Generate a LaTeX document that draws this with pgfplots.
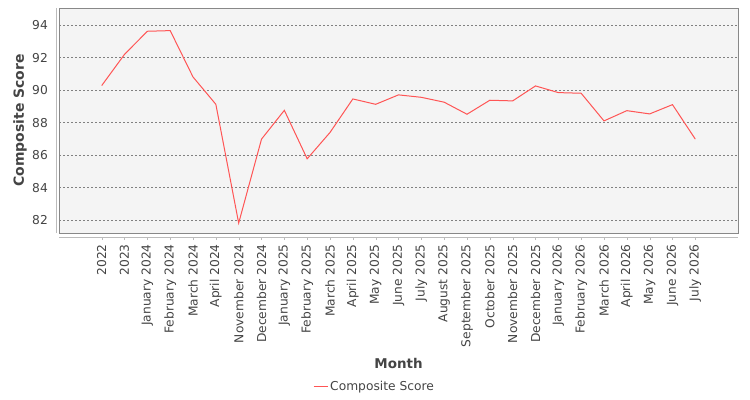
\documentclass[border=0pt]{standalone}
\usepackage{pgfplots}
\pgfplotsset{compat=1.18}
\usepackage{fontspec}
\setmainfont{DejaVu Sans}
\definecolor{linered}{HTML}{FF5555}
\definecolor{plotbg}{HTML}{F4F4F4}
\definecolor{txt}{HTML}{444444}
\definecolor{gridc}{HTML}{808080}
\definecolor{axline}{HTML}{BBBBBB}
\definecolor{border}{HTML}{888888}
\begin{document}
\begin{tikzpicture}
\useasboundingbox (0,0) rectangle (750bp,400bp);
\begin{axis}[
  at={(59bp,167bp)}, anchor=south west,
  scale only axis, width=679bp, height=225bp,
  xmin=-1.87, xmax=27.87, ymin=81.22, ymax=95.05,
  clip=false,
  axis background/.style={fill=plotbg},
  axis line style={border, line width=0.8bp},
  xtick={0,...,26},
  xticklabels={2022,2023,January 2024,February 2024,March 2024,April 2024,November 2024,December 2024,January 2025,February 2025,March 2025,April 2025,May 2025,June 2025,July 2025,August 2025,September 2025,October 2025,November 2025,December 2025,January 2026,February 2026,March 2026,April 2026,May 2026,June 2026,July 2026},
  xtick pos=bottom,
  major tick length=3bp,
  xtick style={draw=axline, yshift=-7bp},
  ytick={82,84,...,94},
  ytick style={draw=none},
  ymajorgrids,
  grid style={gridc, line width=0.6bp, dash pattern=on 2bp off 2bp},
  /pgf/number format/assume math mode=true,
  xticklabel style={rotate=90, anchor=east, inner sep=0pt, font=\fontsize{12.3}{14}\selectfont, text=txt},
  xticklabel shift=11bp,
  yticklabel style={anchor=east, inner sep=0pt, font=\fontsize{12.3}{14}\selectfont, text=txt},
  yticklabel shift=11bp,
  xlabel={Month},
  xlabel style={at={(axis description cs:0.5,-0.578)}, anchor=center, font=\bfseries\fontsize{13.5}{15}\selectfont, text=txt},
  ylabel={Composite Score},
  ylabel style={at={(axis description cs:-0.0575,0.5)}, anchor=center, font=\bfseries\fontsize{14}{16}\selectfont, text=txt},
  legend style={at={(axis description cs:0.4647,-0.684)}, anchor=center, draw=none, fill=none, font=\fontsize{12.3}{14}\selectfont, text=txt},
  legend image code/.code={\draw[#1] (0bp,0bp) -- (14bp,0bp);},
]
\addplot[linered, line width=1bp, mark=none] coordinates {
(0,90.28) (1,92.20) (2,93.62) (3,93.66) (4,90.81) (5,89.13) (6,81.83)
(7,86.99) (8,88.76) (9,85.78) (10,87.40) (11,89.46) (12,89.13) (13,89.71)
(14,89.56) (15,89.26) (16,88.52) (17,89.38) (18,89.34) (19,90.26) (20,89.85)
(21,89.81) (22,88.11) (23,88.74) (24,88.54) (25,89.11) (26,86.99)
};
\addlegendentry{Composite Score}
\draw[axline, line width=0.8bp] ([xshift=-3bp]rel axis cs:0,0) -- ([xshift=-3bp]rel axis cs:0,1);
\draw[axline, line width=0.8bp] ([yshift=-4bp]rel axis cs:0,0) -- ([yshift=-4bp]rel axis cs:1,0);
\end{axis}
\end{tikzpicture}
\end{document}
